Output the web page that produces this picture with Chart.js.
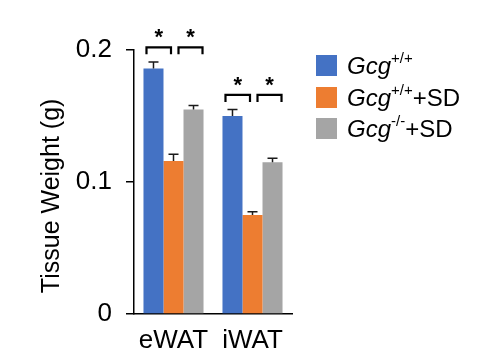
<!DOCTYPE html>
<html>
<head>
<meta charset="utf-8">
<script src="https://cdn.jsdelivr.net/npm/chart.js@4"></script>
<style>
  html, body { margin: 0; padding: 0; background: #fff; }
  #wrap { position: relative; width: 478px; height: 349px; }
  #legend { position: absolute; left: 316px; top: 50px; font-family: 'Liberation Sans', Arial, sans-serif; font-size: 24px; color: #000; }
  .row { display: flex; align-items: center; height: 31.5px; }
  .sw { width: 21px; height: 21px; margin-right: 10px; }
  .row sup { font-size: 15px; position: relative; top: -2px; }
</style>
</head>
<body>
<div id="wrap">
  <canvas id="chart" width="478" height="349"></canvas>
  <div id="legend"></div>
</div>
<script>
const categories = ['eWAT', 'iWAT']
const seriesGene = ['Gcg', 'Gcg', 'Gcg']
const seriesSup = ['+/+', '+/+', '-/-']
const seriesSuffix = ['', '+SD', '+SD']
const colors = ['#4472C4', '#ED7D31', '#A5A5A5']

const wildType = [0.186, 0.150]
const wildTypeSD = [0.116, 0.075]
const knockoutSD = [0.155, 0.115]
const errWildType = [0.005, 0.005]
const errWildTypeSD = [0.005, 0.0025]
const errKnockoutSD = [0.003, 0.003]

// significance brackets: [from series, to series], height per category
const bracketPairs = [[0, 1], [1, 2]]
const bracketLevels = [0.202, 0.166]

const yTicks = [0, 0.1, 0.2]

const values = [wildType, wildTypeSD, knockoutSD]
const errors = [errWildType, errWildTypeSD, errKnockoutSD]

const FONT = "'Liberation Sans', Arial, sans-serif"

// legend with italic gene name + superscript genotype
const legendEl = document.getElementById('legend')
seriesGene.forEach((g, i) => {
  const row = document.createElement('div')
  row.className = 'row'
  row.innerHTML = '<div class="sw" style="background:' + colors[i] + '"></div>' +
    '<span><i>' + g + '</i><sup>' + seriesSup[i] + '</sup>' + seriesSuffix[i] + '</span>'
  legendEl.appendChild(row)
})

const errorBars = {
  id: 'errorBars',
  afterDatasetsDraw(chart) {
    const ctx = chart.ctx
    const y = chart.scales.y
    ctx.save()
    ctx.strokeStyle = '#1a1a1a'
    ctx.lineWidth = 1.5
    chart.data.datasets.forEach((ds, di) => {
      chart.getDatasetMeta(di).data.forEach((bar, i) => {
        const top = y.getPixelForValue(ds.data[i] + errors[di][i])
        ctx.beginPath()
        ctx.moveTo(bar.x, bar.y)
        ctx.lineTo(bar.x, top)
        ctx.moveTo(bar.x - 5, top)
        ctx.lineTo(bar.x + 5, top)
        ctx.stroke()
      })
    })
    ctx.restore()
  }
}

const brackets = {
  id: 'brackets',
  afterDatasetsDraw(chart) {
    const ctx = chart.ctx
    const y = chart.scales.y
    const offs = [[-7, -2.5], [5, 9]]
    ctx.save()
    ctx.strokeStyle = '#000'
    ctx.lineWidth = 2.2
    ctx.fillStyle = '#000'
    ctx.font = 'bold 22px ' + FONT
    ctx.textAlign = 'center'
    ctx.textBaseline = 'middle'
    categories.forEach((c, i) => {
      const yy = y.getPixelForValue(bracketLevels[i])
      bracketPairs.forEach(([a, b], k) => {
        const x1 = chart.getDatasetMeta(a).data[i].x + offs[k][0]
        const x2 = chart.getDatasetMeta(b).data[i].x + offs[k][1]
        ctx.beginPath()
        ctx.moveTo(x1, yy + 7)
        ctx.lineTo(x1, yy)
        ctx.lineTo(x2, yy)
        ctx.lineTo(x2, yy + 7)
        ctx.stroke()
        ctx.fillText('*', (x1 + x2) / 2, yy - 9)
      })
    })
    ctx.restore()
  }
}

new Chart(document.getElementById('chart'), {
  type: 'bar',
  data: {
    labels: categories,
    datasets: values.map((v, i) => ({
      label: seriesGene[i] + seriesSup[i] + seriesSuffix[i],
      data: v,
      backgroundColor: colors[i],
      borderWidth: 0,
      categoryPercentage: 0.76,
      barPercentage: 1.0,
    }))
  },
  options: {
    responsive: false,
    animation: false,
    layout: { padding: { left: 0, top: 50, right: 186, bottom: 0 } },
    plugins: {
      legend: { display: false },
      tooltip: { enabled: false }
    },
    scales: {
      x: {
        grid: { display: false },
        border: { color: '#000', width: 1.5 },
        ticks: { color: '#000', font: { family: FONT, size: 26 }, padding: 3 },
        afterFit(scale) { scale.height = 35 }
      },
      y: {
        min: 0,
        max: 0.2,
        afterBuildTicks(scale) { scale.ticks = yTicks.map(v => ({ value: v })) },
        grid: { drawOnChartArea: false, drawTicks: true, tickLength: 8, color: '#000', lineWidth: 1.5 },
        border: { color: '#000', width: 1.5 },
        ticks: {
          color: '#000',
          font: { family: FONT, size: 26 },
          padding: 14,
          callback: v => v === 0 ? '0' : v.toFixed(1)
        },
        title: {
          display: true,
          text: 'Tissue Weight (g)    ',
          color: '#000',
          font: { family: FONT, size: 25 },
          padding: { top: 37, bottom: 0 }
        },
        afterFit(scale) { scale.width = 134 }
      }
    }
  },
  plugins: [errorBars, brackets]
})
</script>
</body>
</html>
